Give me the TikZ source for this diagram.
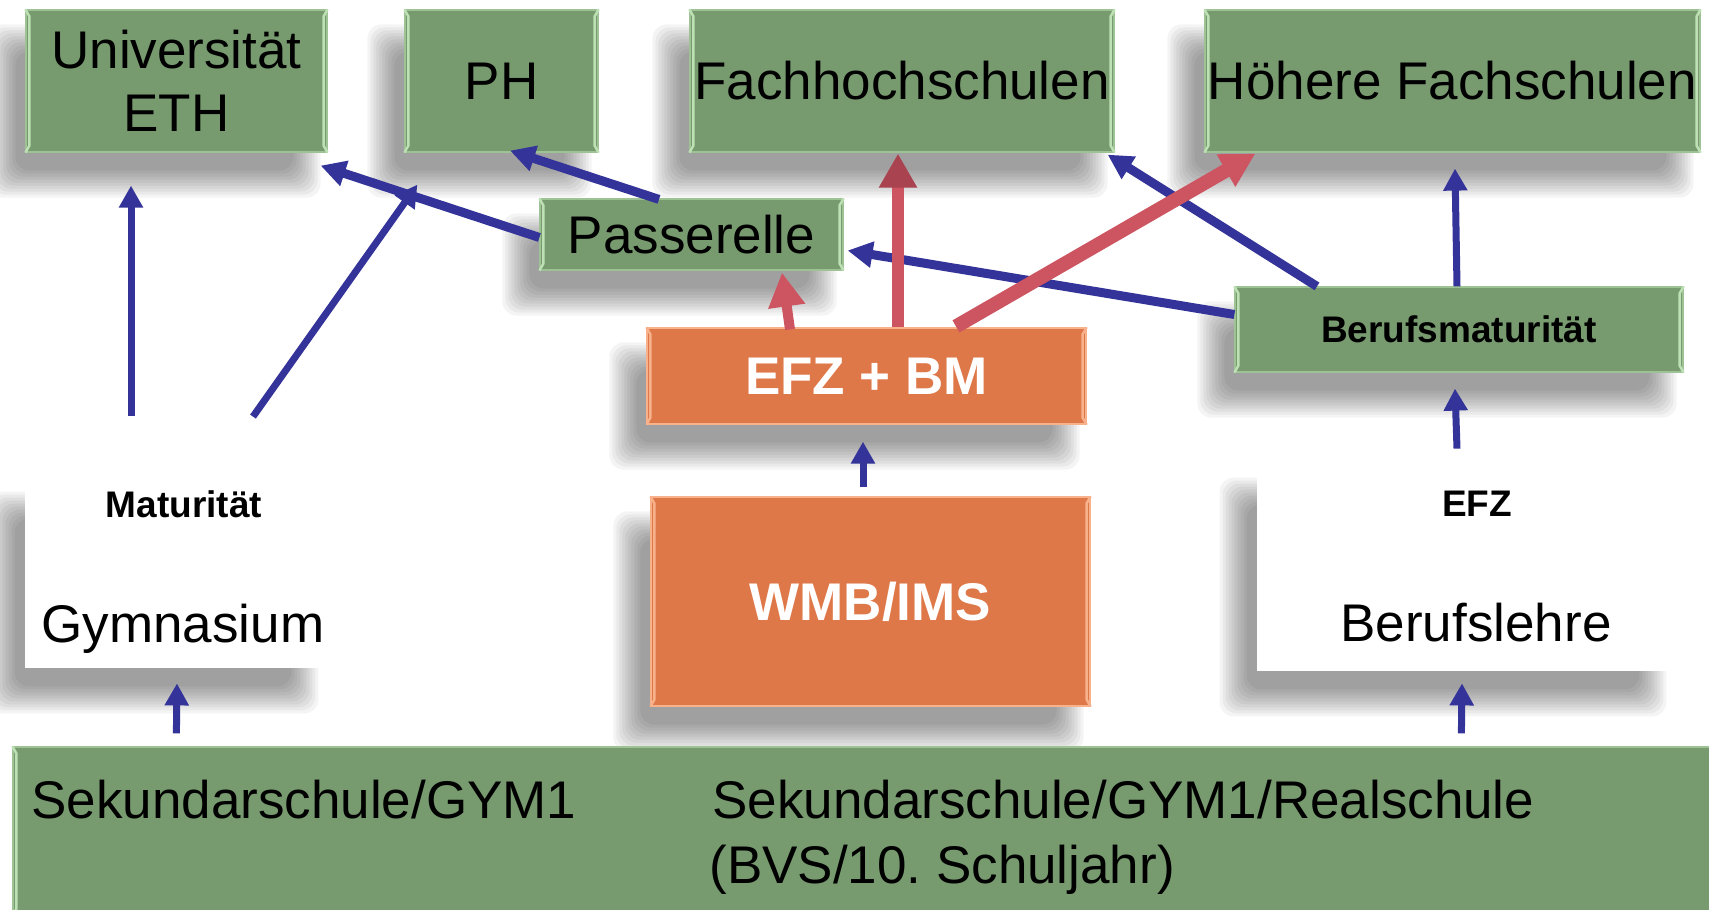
\documentclass[tikz,border=0pt]{standalone}
\usepackage{fontspec}
\setmainfont{Liberation Sans}
\usetikzlibrary{arrows.meta,calc}
\definecolor{boxgreen}{HTML}{779A6F}
\definecolor{bevgreen}{HTML}{BEE0B5}
\definecolor{edgegreen}{HTML}{9DC394}
\definecolor{boxorange}{HTML}{DF7849}
\definecolor{bevorange}{HTML}{F7B28C}
\definecolor{arrblue}{HTML}{333399}
\definecolor{arrred}{HTML}{CD5461}
\definecolor{arrreddark}{HTML}{A9434F}
\pgfdeclarelayer{back}
\pgfdeclarelayer{bg}
\pgfsetlayers{back,bg,main}
\frenchspacing
\newcommand{\bigtext}{\fontsize{26.5}{31.5}\selectfont}
\newcommand{\smalltext}{\fontsize{18.5}{22}\selectfont\bfseries}
\newcommand{\dropshadow}[1]{%
  \begin{pgfonlayer}{bg}
  \foreach \k in {0,...,9}{%
    \fill[black,opacity=0.042,rounded corners=7pt]
      ($(#1.north west)+(-37+3*\k,15+3*\k)$) rectangle ($(#1.south east)+(-7-3*\k,45-3*\k)$);
  }
  \end{pgfonlayer}}
\newcommand{\bevel}[2]{%
  \draw[#2,line width=1.2pt] (#1.north west) -- ($(#1.north west)+(4,7)$) -- ($(#1.south west)+(4,-7)$) -- (#1.south west);
  \draw[#2,line width=1.2pt] (#1.north east) -- ($(#1.north east)+(-4,7)$) -- ($(#1.south east)+(-4,-7)$) -- (#1.south east);}
\tikzset{
  gbox/.style={draw=edgegreen, line width=0.6pt, fill=boxgreen, inner sep=0pt, align=center, font=\bigtext},
  obox/.style={draw=bevorange, line width=0.6pt, fill=boxorange, inner sep=0pt, text=white, font=\bigtext\bfseries},
  wbox/.style={fill=white, inner sep=0pt},
  bigt/.style={font=\bigtext},
  smallt/.style={font=\smalltext},
  bthin/.style={draw=arrblue, line width=3.5pt, -{Triangle[length=11pt,width=11.5pt]}},
  bthick/.style={draw=arrblue, line width=4.5pt, -{Triangle[length=12.5pt,width=12.5pt]}},
  redarr/.style={draw=arrred, line width=6pt, -{Triangle[length=17pt,width=17.5pt]}},
}
\begin{document}
\begin{tikzpicture}[x=0.5pt,y=-0.5pt]
\useasboundingbox (0,0) rectangle (1709,910);
\begin{pgfonlayer}{back}
  \fill[white] (0,0) rectangle (1709,910);
\end{pgfonlayer}

% boxes
\node[gbox, minimum width=150.5pt, minimum height=71pt] (uni) at (176.5,81) {Universität\\ETH};
\node[gbox, minimum width=96.5pt, minimum height=71pt] (ph) at (501.5,81) {PH};
\node[gbox, minimum width=212pt, minimum height=71pt] (fh) at (902,81) {Fachhochschulen};
\node[gbox, minimum width=247.5pt, minimum height=71pt] (hf) at (1452.5,81) {Höhere Fachschulen};
\node[gbox, minimum width=151.5pt, minimum height=35.5pt] (pass) at (691.5,234.5) {Passerelle};
\node[obox, minimum width=219.5pt, minimum height=48pt] (efzbm) at (866.5,376) {EFZ + BM};
\node[gbox, minimum width=224pt, minimum height=42.5pt, font=\smalltext] (bm) at (1459,329.5) {Berufsmaturität};
\node[obox, minimum width=219.5pt, minimum height=104.5pt] (wmb) at (870.5,601.5) {WMB/IMS};
\node[wbox, minimum width=150pt, minimum height=95.5pt] (gym) at (175,572.5) {};
\node[wbox, minimum width=208pt, minimum height=104pt] (efzb) at (1465,567) {};
\node[gbox, minimum width=851pt, minimum height=84pt] (bar) at (864,831) {};

\foreach \n in {uni,ph,fh,hf,pass,bm}{\bevel{\n}{bevgreen}}
\bevel{bar}{bevgreen}
\bevel{efzbm}{bevorange}
\bevel{wmb}{bevorange}
\foreach \n in {uni,ph,fh,hf,pass,efzbm,bm,wmb,gym,efzb}{\dropshadow{\n}}

% texts in white boxes and bar
\node[smallt, anchor=base] (matu) at (184,517) {Maturität};
\node[bigt, anchor=base] (gymt) at (183,642) {Gymnasium};
\node[smallt, anchor=base] (efzt) at (1477,516) {EFZ};
\node[bigt, anchor=base] (berl) at (1476,641) {Berufslehre};
\node[bigt, anchor=base west, inner sep=0pt] (sek1) at (31,818) {Sekundarschule/GYM1};
\node[bigt, anchor=base west, inner sep=0pt] (sek2) at (712,818) {Sekundarschule/GYM1/Realschule};
\node[bigt, anchor=base west, inner sep=0pt] (bvs) at (709,883) {(BVS/10. Schuljahr)};

% blue connectors
\draw[bthick] ($(pass.west)+(0,3)$) -- ($(uni.south east)+(-7,13)$);
\draw[bthick] ($(pass.north)+(-32.5,1)$) -- ($(ph.south)+(8.5,-2)$);
\draw[bthick] ($(bm.west)+(0,-15)$) -- ($(pass.east)+(4,16)$);
\draw[bthick] ($(bm.north)+(-142,0)$) -- ($(fh.south east)+(-7,2)$);
\draw[bthin] ($(gym.north)+(-44,-61)$) -- ($(uni.south)+(-45.5,33)$);
\draw[bthin] ($(gym.north)+(78,-60)$) -- ($(ph.south west)+(13,32)$);
\draw[bthin] ($(bm.north)+(-2,0)$) -- ($(hf.south)+(2.5,16)$);
\draw[bthin] ($(efzb.north)+(-8,-14)$) -- ($(bm.south)+(-4,16)$);
\draw[bthin] ($(wmb.north)+(-7.5,-9)$) -- ($(efzbm.south)+(-3.5,17)$);
\draw[bthin] ($(bar.north west)+(164,-13)$) -- ($(gym.south)+(2,15)$);
\draw[bthin] ($(bar.north west)+(1449,-13)$) -- ($(efzb.south)+(-3,12)$);

% red connectors
\draw[redarr, line width=5pt] ($(efzbm.north)+(-76.5,2)$) -- ($(pass.south)+(90.5,2)$);
\draw[redarr, -{Triangle[length=17pt,width=18pt,color=arrreddark]}] ($(efzbm.north)+(31.5,0)$) -- ($(fh.south)+(-4,1)$);
\draw[redarr, line width=7pt] ($(efzbm.north)+(89.5,-1)$) -- ($(hf.south west)+(51,1)$);
\end{tikzpicture}
\end{document}
